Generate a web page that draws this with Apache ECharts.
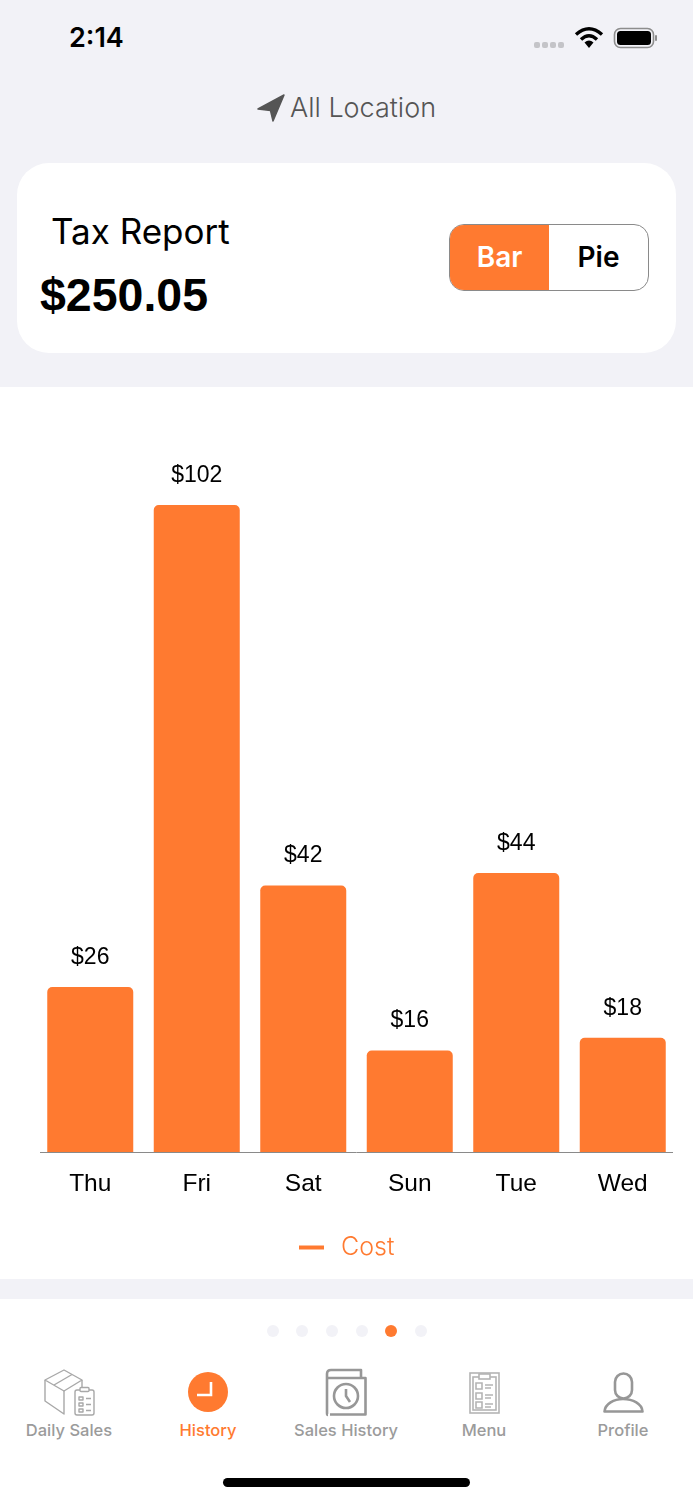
<!DOCTYPE html>
<html>
<head>
<meta charset="utf-8">
<title>Tax Report</title>
<script src="https://cdn.jsdelivr.net/npm/echarts@6/dist/echarts.min.js"></script>
<style>
html, body { margin: 0; padding: 0; background: #f2f2f7; }
body { position: relative; width: 693px; height: 1500px; overflow: hidden; font-family: Inter, sans-serif; }
.abs { position: absolute; white-space: nowrap; }
.helv { font-family: "Liberation Sans", sans-serif; }
#card { left: 17px; top: 163px; width: 659px; height: 190px; background: #fff; border-radius: 32px; }
#seg { left: 449px; top: 224px; width: 198px; height: 65px; border: 1px solid #8a8a8a; border-radius: 15px; overflow: hidden; background: #fff; }
#seg div { position: absolute; top: 0; height: 65px; line-height: 65px; width: 99px; text-align: center; font-size: 28px; font-weight: 600; }
#chart { left: 0; top: 387px; width: 693px; height: 892px; background: #fff; }
#bottom { left: 0; top: 1299px; width: 693px; height: 201px; background: #fff; }
.dot { position: absolute; top: 1325px; width: 12px; height: 12px; border-radius: 6px; background: #f2f2f7; }
.nav { position: absolute; top: 1420px; width: 140px; margin-left: -70px; text-align: center; font-size: 16.5px; line-height: 20px; color: #9b9b9b; font-weight: 500; }
svg { position: absolute; overflow: visible; }
</style>
</head>
<body>
<div class="abs" style="left:69px;top:20px;font-size:27px;line-height:36px;font-weight:600;color:#000">2:14</div>
<svg style="left:530px;top:24px" width="130" height="30">
    <g fill="#c4c4c8">
        <rect x="4" y="18" width="6" height="6" rx="2"/><rect x="12" y="18" width="6" height="6" rx="2"/>
        <rect x="20" y="18" width="6" height="6" rx="2"/><rect x="28" y="18" width="6" height="6" rx="2"/>
    </g>
    <g fill="none" stroke="#000" stroke-width="3.4">
        <path d="M46 10.5 Q59 -1 72 10.5"/><path d="M51 15.5 Q59 8 67 15.5"/>
    </g>
    <path d="M54.5 18.5 Q59 14.5 63.5 18.5 L59 24 Z" fill="#000"/>
    <rect x="84.5" y="4.5" width="39" height="19" rx="6" fill="none" stroke="#8d8d8d" stroke-width="1.6"/>
    <rect x="87" y="7" width="34" height="14" rx="3.5" fill="#000"/>
    <rect x="125" y="11" width="2" height="6" rx="1" fill="#8d8d8d"/>
</svg>
<svg style="left:257px;top:94px" width="28" height="28"><path d="M1 15 L27 1 L16 27 L13.5 16.5 Z" fill="#555" stroke="#555" stroke-width="1.5" stroke-linejoin="round"/></svg>
<div class="abs" style="left:290px;top:90px;font-size:27px;line-height:36px;font-weight:300;color:#555">All Location</div>

<div class="abs" id="card"></div>
<div class="abs" style="left:51px;top:208px;font-size:35px;line-height:46px;color:#000">Tax Report</div>
<div class="abs helv" style="left:40px;top:266px;font-size:46.5px;line-height:58px;font-weight:bold;color:#000">$250.05</div>
<div class="abs" id="seg">
    <div style="left:0;background:#ff7a30;color:#fff">Bar</div>
    <div style="left:99px;color:#000">Pie</div>
</div>

<div class="abs" id="chart"></div>

<div class="abs" id="bottom"></div>
<div class="dot" style="left:267px"></div>
<div class="dot" style="left:296px"></div>
<div class="dot" style="left:326px"></div>
<div class="dot" style="left:356px"></div>
<div class="dot" style="left:385px;background:#ff7a30"></div>
<div class="dot" style="left:415px"></div>

<svg style="left:44px;top:1369px" width="52" height="48">
    <g fill="none" stroke="#a8a8a8" stroke-width="1.4" stroke-linejoin="round">
        <path d="M1 11 L20 1 L38 11 L20 22 Z"/><path d="M1 11 L1 32 L20 45 L20 22"/><path d="M38 11 L38 22"/>
        <path d="M10 16 L28 5.5"/>
        <rect x="31" y="21" width="19" height="25" rx="2" fill="#fff"/><rect x="36" y="18.5" width="9" height="4" rx="1" fill="#fff"/>
        <path d="M35 28 h4 v3 h-4 z M35 34 h4 v3 h-4 z M35 40 h4 v3 h-4 z M42 29.5 h5 M42 35.5 h5 M42 41.5 h5"/>
    </g>
</svg>
<svg style="left:188px;top:1372px" width="40" height="40">
    <circle cx="20" cy="20" r="20" fill="#ff7a30"/>
    <path d="M23 10 V23 H9" fill="none" stroke="#fff" stroke-width="2.6"/>
</svg>
<svg style="left:326px;top:1369px" width="41" height="47">
    <g fill="none" stroke="#979797" stroke-width="2.6" stroke-linejoin="round">
        <path d="M2 46 Q1 46 1 44 V5 Q1 1 5 1 H35 V9 M1.5 9 H39.5 V45.5 H4"/>
        <circle cx="20" cy="27" r="12"/><path d="M20 20 V27 L24 33"/>
    </g>
</svg>
<svg style="left:469px;top:1372px" width="31" height="42">
    <g fill="none" stroke="#b4b4b4" stroke-width="1.6">
        <rect x="1" y="1" width="29" height="40"/><rect x="4" y="5" width="23" height="33"/><rect x="10" y="2" width="11" height="5" fill="#fff"/>
        <path d="M7 11 h6 v6 h-6 z M7 21 h6 v6 h-6 z M7 30 h6 v6 h-6 z M16 13 h8 M16 16 h6 M16 23 h8 M16 26 h6 M16 32 h8 M16 35 h6"/>
    </g>
</svg>
<svg style="left:603px;top:1372px" width="41" height="42">
    <g fill="none" stroke="#979797" stroke-width="2.6">
        <rect x="12" y="1.5" width="17" height="25" rx="8.5"/>
        <path d="M1.5 39.5 C2 32 11 27 20 27 C30 27 39 32 39.5 39.5 Z" stroke-linejoin="round"/>
    </g>
</svg>
<div class="nav" style="left:69px">Daily Sales</div>
<div class="nav" style="left:208px;color:#ff7a30">History</div>
<div class="nav" style="left:346px">Sales History</div>
<div class="nav" style="left:484px">Menu</div>
<div class="nav" style="left:623px">Profile</div>

<div class="abs" style="left:223px;top:1478px;width:247px;height:9px;border-radius:5px;background:#000"></div>

<script>
const categories = ['Thu', 'Fri', 'Sat', 'Sun', 'Tue', 'Wed'];
const costs = [26, 102, 42, 16, 44, 18];
const seriesName = 'Cost';
const orange = '#ff7a30';

let chart = echarts.init(document.getElementById('chart'));
chart.setOption({
    animation: false,
    grid: {
        left: 37,
        right: 17,
        top: 67.3,
        bottom: 127
    },
    legend: {
        left: 299,
        top: 848,
        padding: 0,
        itemWidth: 25,
        itemHeight: 4,
        icon: 'rect',
        data: [seriesName],
        textStyle: {
            color: orange,
            fontSize: 25,
            fontFamily: 'Inter',
            fontWeight: 300,
            padding: [0, 0, 0, 12]
        }
    },
    xAxis: {
        type: 'category',
        data: categories,
        axisLine: {show: false},
        axisTick: {show: false},
        axisLabel: {
            color: '#000',
            fontSize: 24.5,
            fontFamily: 'Liberation Sans',
            margin: 20,
            interval: 0
        }
    },
    yAxis: {
        type: 'value',
        min: 0,
        max: 110,
        show: false
    },
    series: [
        {
            name: seriesName,
            type: 'bar',
            data: costs,
            barWidth: 86,
            itemStyle: {
                color: orange,
                borderRadius: [5, 5, 0, 0]
            },
            label: {
                show: true,
                position: 'top',
                distance: 18,
                color: '#000',
                fontSize: 23,
                fontFamily: 'Liberation Sans',
                formatter: (p) => '$' + p.value
            }
        }
    ],
    // axis line is a little shorter than the category bands
    graphic: [
        {
            type: 'line',
            z: 10,
            shape: {x1: 40, y1: 765.5, x2: 673, y2: 765.5},
            style: {stroke: '#8a8a8a', lineWidth: 1}
        }
    ]
});
</script>
</body>
</html>
